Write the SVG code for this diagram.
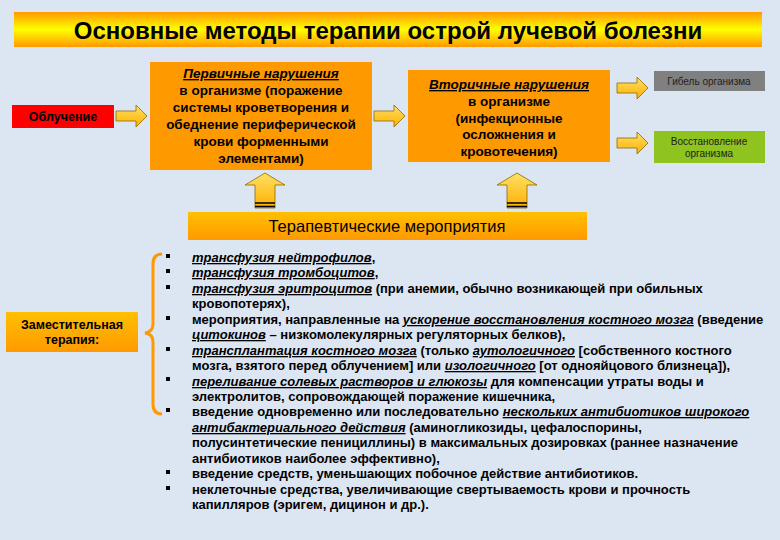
<svg xmlns="http://www.w3.org/2000/svg" width="780" height="540" viewBox="0 0 780 540">
<defs>
<linearGradient id="gy" x1="0" y1="0" x2="0" y2="1"><stop offset="0" stop-color="#FF9900"/><stop offset="0.5" stop-color="#FFFF00"/><stop offset="1" stop-color="#FF9900"/></linearGradient>
<linearGradient id="go" x1="0" y1="0" x2="0" y2="1"><stop offset="0" stop-color="#FFC000"/><stop offset="1" stop-color="#FF9900"/></linearGradient>
<linearGradient id="ar" x1="0" y1="0" x2="0" y2="1"><stop offset="0" stop-color="#FFE066"/><stop offset="1" stop-color="#FFB000"/></linearGradient>
<path id="ra" d="M0,-5 H20 V-11 L31,0 L20,11 V5 H0 Z"/>
<path id="ua" d="M-10,35 V12 H-20 L0,0 L20,12 H10 V35 Z"/>
</defs>
<style>
text{font-family:"Liberation Sans",Arial,sans-serif;fill:#000}
.b{font-weight:bold}
.n{font-size:13.5px;font-weight:bold;text-anchor:middle}
.l{font-size:13px;font-weight:bold}
.u{font-style:italic;text-decoration:underline}
.arr{fill:url(#ar);stroke:#8a6a00;stroke-width:0.8}
.s{font-size:10px;text-anchor:middle;fill:#222}
</style>
<rect width="780" height="540" fill="#DCE6F2"/>
<g id="title"><rect x="14" y="12" width="748" height="35" fill="url(#gy)"/><text x="388" y="39" font-size="24" class="b" text-anchor="middle">Основные методы терапии острой лучевой болезни</text></g>
<g id="irr"><rect x="12" y="105" width="102" height="23" fill="#FF0000"/><text x="63" y="121" class="n" style="font-size:12.5px">Облучение</text></g>
<g id="prim"><rect x="150" y="62" width="222" height="108" fill="#FF9900"/>
<text class="n"><tspan x="261" y="78" class="u">Первичные нарушения</tspan><tspan x="261" y="95">в организме (поражение</tspan><tspan x="261" y="112">системы кроветворения и</tspan><tspan x="261" y="129">обеднение периферической</tspan><tspan x="261" y="146">крови форменными</tspan><tspan x="261" y="163">элементами)</tspan></text></g>
<g id="sec"><rect x="408" y="70" width="202" height="92" fill="#FF9900"/>
<text class="n"><tspan x="509" y="89" class="u">Вторичные нарушения</tspan><tspan x="509" y="106">в организме</tspan><tspan x="509" y="123">(инфекционные</tspan><tspan x="509" y="139">осложнения и</tspan><tspan x="509" y="156">кровотечения)</tspan></text></g>
<g id="death"><rect x="654" y="71" width="111" height="20" fill="#808080"/><text x="709" y="85" class="s">Гибель организма</text></g>
<g id="rec"><rect x="654" y="131" width="111" height="32" fill="#8FC31F"/><text class="s"><tspan x="709" y="145">Восстановление</tspan><tspan x="709" y="157">организма</tspan></text></g>
<g id="ther"><rect x="188" y="212" width="399" height="28" fill="url(#go)"/><text x="387" y="232" font-size="16.5" text-anchor="middle">Терапевтические мероприятия</text></g>
<g id="subst"><rect x="6" y="312" width="132" height="40" fill="url(#go)"/><text class="n" style="font-size:12.5px"><tspan x="72" y="329">Заместительная</tspan><tspan x="72" y="344">терапия:</tspan></text></g>
<g id="connectors">
<use href="#ra" x="116" y="116" class="arr"/>
<use href="#ra" x="374" y="116" class="arr"/>
<use href="#ra" x="617" y="88" class="arr"/>
<use href="#ra" x="617" y="143" class="arr"/>
<use href="#ua" x="265" y="173" class="arr"/>
<use href="#ua" x="517" y="173" class="arr"/>
<path d="M255,203 H275 M255,206.5 H275 M507,203 H527 M507,206.5 H527" stroke="#000" stroke-width="1.5"/>
<path d="M162,254 Q153,254 153,264 V324 Q153,332 145,333 Q153,334 153,342 V404 Q153,414 162,414" fill="none" stroke="#FF9900" stroke-width="3"/>
</g>
<g id="list">
<g fill="#000"><rect x="166" y="254" width="4" height="4"/><rect x="166" y="269" width="4" height="4"/><rect x="166" y="285" width="4" height="4"/><rect x="166" y="316" width="4" height="4"/><rect x="166" y="347" width="4" height="4"/><rect x="166" y="377" width="4" height="4"/><rect x="166" y="408" width="4" height="4"/><rect x="166" y="470" width="4" height="4"/><rect x="166" y="486" width="4" height="4"/></g>
<text class="l">
<tspan x="192" y="262"><tspan class="u">трансфузия нейтрофилов</tspan>,</tspan>
<tspan x="192" y="277"><tspan class="u">трансфузия тромбоцитов</tspan>,</tspan>
<tspan x="192" y="293"><tspan class="u">трансфузия эритроцитов</tspan> (при анемии, обычно возникающей при обильных</tspan>
<tspan x="192" y="308">кровопотерях),</tspan>
<tspan x="192" y="324">мероприятия, направленные на <tspan class="u">ускорение восстановления костного мозга</tspan> (введение</tspan>
<tspan x="192" y="339"><tspan class="u">цитокинов</tspan> – низкомолекулярных регуляторных белков),</tspan>
<tspan x="192" y="355"><tspan class="u">трансплантация костного мозга</tspan> (только <tspan class="u">аутологичного</tspan> [собственного костного</tspan>
<tspan x="192" y="370">мозга, взятого перед облучением] или <tspan class="u">изологичного</tspan> [от однояйцового близнеца]),</tspan>
<tspan x="192" y="386"><tspan class="u">переливание солевых растворов и глюкозы</tspan> для компенсации утраты воды и</tspan>
<tspan x="192" y="401">электролитов, сопровождающей поражение кишечника,</tspan>
<tspan x="192" y="416">введение одновременно или последовательно <tspan class="u">нескольких антибиотиков широкого</tspan></tspan>
<tspan x="192" y="432"><tspan class="u">антибактериального действия</tspan> (аминогликозиды, цефалоспорины,</tspan>
<tspan x="192" y="447">полусинтетические пенициллины) в максимальных дозировках (раннее назначение</tspan>
<tspan x="192" y="463">антибиотиков наиболее эффективно),</tspan>
<tspan x="192" y="478">введение средств, уменьшающих побочное действие антибиотиков.</tspan>
<tspan x="192" y="494">неклеточные средства, увеличивающие свертываемость крови и прочность</tspan>
<tspan x="192" y="509">капилляров (эригем, дицинон и др.).</tspan>
</text>
</g>
</svg>
